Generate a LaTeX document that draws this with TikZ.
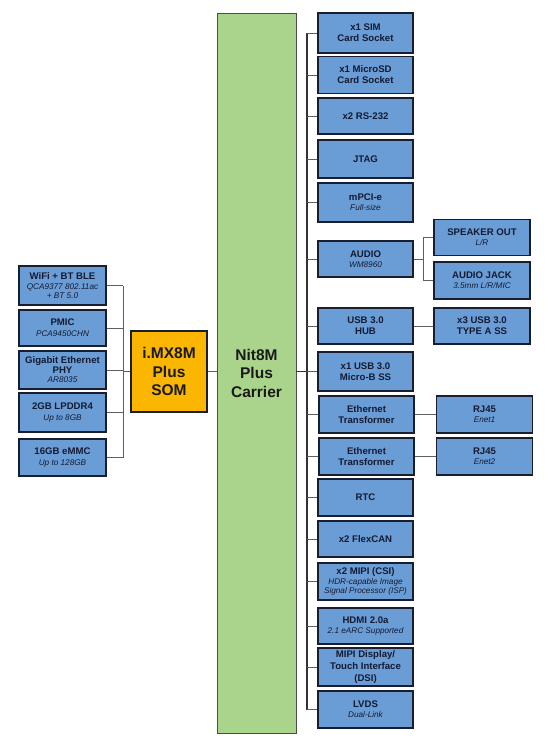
\documentclass[tikz,border=0pt]{standalone}
\usepackage{fontspec}
\setmainfont{Liberation Sans}
\definecolor{blu}{RGB}{106,157,214}
\definecolor{bordc}{RGB}{24,30,46}
\definecolor{txt}{RGB}{20,26,50}
\definecolor{grn}{RGB}{170,212,140}
\definecolor{grnb}{RGB}{70,80,70}
\definecolor{yel}{RGB}{250,182,0}
\definecolor{wire}{RGB}{95,95,95}
\tikzset{
  blk/.style={draw=bordc, line width=1.4pt, fill=blu, minimum width=95pt, minimum height=38pt,
    align=center, inner sep=1pt, text=txt, font=\fontsize{9.6}{11}\selectfont\bfseries},
  lblk/.style={blk, minimum width=87pt},
  farblk/.style={blk, minimum width=96pt},
  wireln/.style={draw=wire, line width=0.8pt},
  busln/.style={draw=black!80, line width=1.1pt},
}
\newcommand{\subt}[1]{{\fontsize{8.2}{9}\selectfont\mdseries\itshape #1}}
\begin{document}
\begin{tikzpicture}[x=1pt,y=-1pt]
\useasboundingbox (0,0) rectangle (550,741);
% central blocks
\node[draw=grnb, line width=0.9pt, fill=grn, minimum width=79pt, minimum height=720pt, align=center,
  font=\fontsize{15.5}{18.5}\selectfont\bfseries, text=black!90] (carrier) at (256.5,373) {Nit8M\\Plus\\Carrier};
\node[draw=bordc, line width=1.1pt, fill=yel, minimum width=76pt, minimum height=81pt, align=center,
  font=\fontsize{15.5}{18.5}\selectfont\bfseries, text=black!90] (som) at (169,371.5) {i.MX8M\\Plus\\SOM};
% left blocks
\node[lblk, minimum height=39pt] (wifi) at (62.5,285.5) {WiFi + BT BLE\\[-1pt]\subt{QCA9377 802.11ac}\\[-2pt]\subt{+ BT 5.0}};
\node[lblk, minimum height=36pt] (pmic) at (62.5,328) {PMIC\\\subt{PCA9450CHN}};
\node[lblk] (gbe) at (62.5,370) {Gigabit Ethernet\\[-1pt]PHY\\[-2pt]\subt{AR8035}};
\node[lblk, minimum height=39pt] (ram) at (62.5,412.5) {2GB LPDDR4\\\subt{Up to 8GB}};
\node[lblk, minimum height=37pt] (emmc) at (62.5,457.5) {16GB eMMC\\\subt{Up to 128GB}};
% left bus
\coordinate (lbt) at (123,285.5);
\coordinate (lbb) at (123,457.5);
\draw[wireln] (lbt) -- (lbb);
\foreach \n in {wifi,pmic,gbe,ram,emmc} \draw[wireln] (\n.east) -- (\n.east -| lbt);
\draw[wireln] (som.west) -- (som.west -| lbt);
\draw[wireln] (som.east) -- (carrier.west |- som.east);
% right blocks
\node[blk, minimum height=40pt] (sim) at (365.5,33) {x1 SIM\\Card Socket};
\node[blk, minimum height=37pt] (sd) at (365.5,75) {x1 MicroSD\\Card Socket};
\node[blk, minimum height=36pt] (rs) at (365.5,116) {x2 RS-232};
\node[blk] (jtag) at (365.5,159) {JTAG};
\node[blk, minimum height=39pt] (pci) at (365.5,202.5) {mPCI-e\\[-1pt]\subt{Full-size}};
\node[blk, minimum height=36pt] (audio) at (365.5,259) {AUDIO\\[-1pt]\subt{WM8960}};
\node[blk, minimum height=36pt] (hub) at (365.5,326) {USB 3.0\\HUB};
\node[blk, minimum height=39pt] (usbb) at (365.5,371.5) {x1 USB 3.0\\Micro-B SS};
\node[blk, minimum height=37pt] (eth1) at (366.5,414.5) {Ethernet\\Transformer};
\node[blk, minimum height=37pt] (eth2) at (366.5,456.5) {Ethernet\\Transformer};
\node[blk, minimum height=37pt] (rtc) at (365.5,497.5) {RTC};
\node[blk, minimum height=36pt] (can) at (365.5,539) {x2 FlexCAN};
\node[blk, minimum height=37pt] (csi) at (365.5,581.5) {x2 MIPI (CSI)\\[-1pt]\subt{HDR-capable Image}\\[-2pt]\subt{Signal Processor (ISP)}};
\node[blk, minimum height=36pt] (hdmi) at (365.5,626) {HDMI 2.0a\\[-1pt]\subt{2.1 eARC Supported}};
\node[blk, minimum height=38pt, font=\fontsize{9.6}{11.8}\selectfont\bfseries] (dsi) at (365.5,667) {MIPI Display/\\Touch Interface\\(DSI)};
\node[blk, minimum height=37pt] (lvds) at (365.5,709.5) {LVDS\\[-1pt]\subt{Dual-Link}};
% far right blocks
\node[farblk, minimum height=36pt] (spk) at (482,237.5) {SPEAKER OUT\\[-1pt]\subt{L/R}};
\node[farblk, minimum height=37pt] (jack) at (482,280.5) {AUDIO JACK\\[-1pt]\subt{3.5mm L/R/MIC}};
\node[farblk, minimum height=36pt] (usba) at (482,326) {x3 USB 3.0\\TYPE A SS};
\node[farblk, minimum height=37pt] (rj1) at (484.5,414.5) {RJ45\\[-1pt]\subt{Enet1}};
\node[farblk, minimum height=37pt] (rj2) at (484.5,456.5) {RJ45\\[-1pt]\subt{Enet2}};
% right bus
\coordinate (rbt) at (307,33);
\coordinate (rbb) at (307,709.5);
\draw[busln] (rbt) -- (rbb);
\foreach \n in {sim,sd,rs,jtag,pci,audio,hub,usbb,eth1,eth2,rtc,can,csi,hdmi,dsi,lvds}
  \draw[wireln] (\n.west) -- (\n.west -| rbt);
\draw[busln] (carrier.east |- usbb.west) -- (usbb.west -| rbt);
% audio split
\coordinate (asp) at (423,259);
\draw[wireln] (audio.east) -- (asp);
\draw[wireln] (asp |- spk.west) -- (asp |- jack.west);
\draw[wireln] (asp |- spk.west) -- (spk.west);
\draw[wireln] (asp |- jack.west) -- (jack.west);
\draw[wireln] (hub.east) -- (usba.west);
\draw[wireln] (eth1.east) -- (rj1.west);
\draw[wireln] (eth2.east) -- (rj2.west);
\end{tikzpicture}
\end{document}
